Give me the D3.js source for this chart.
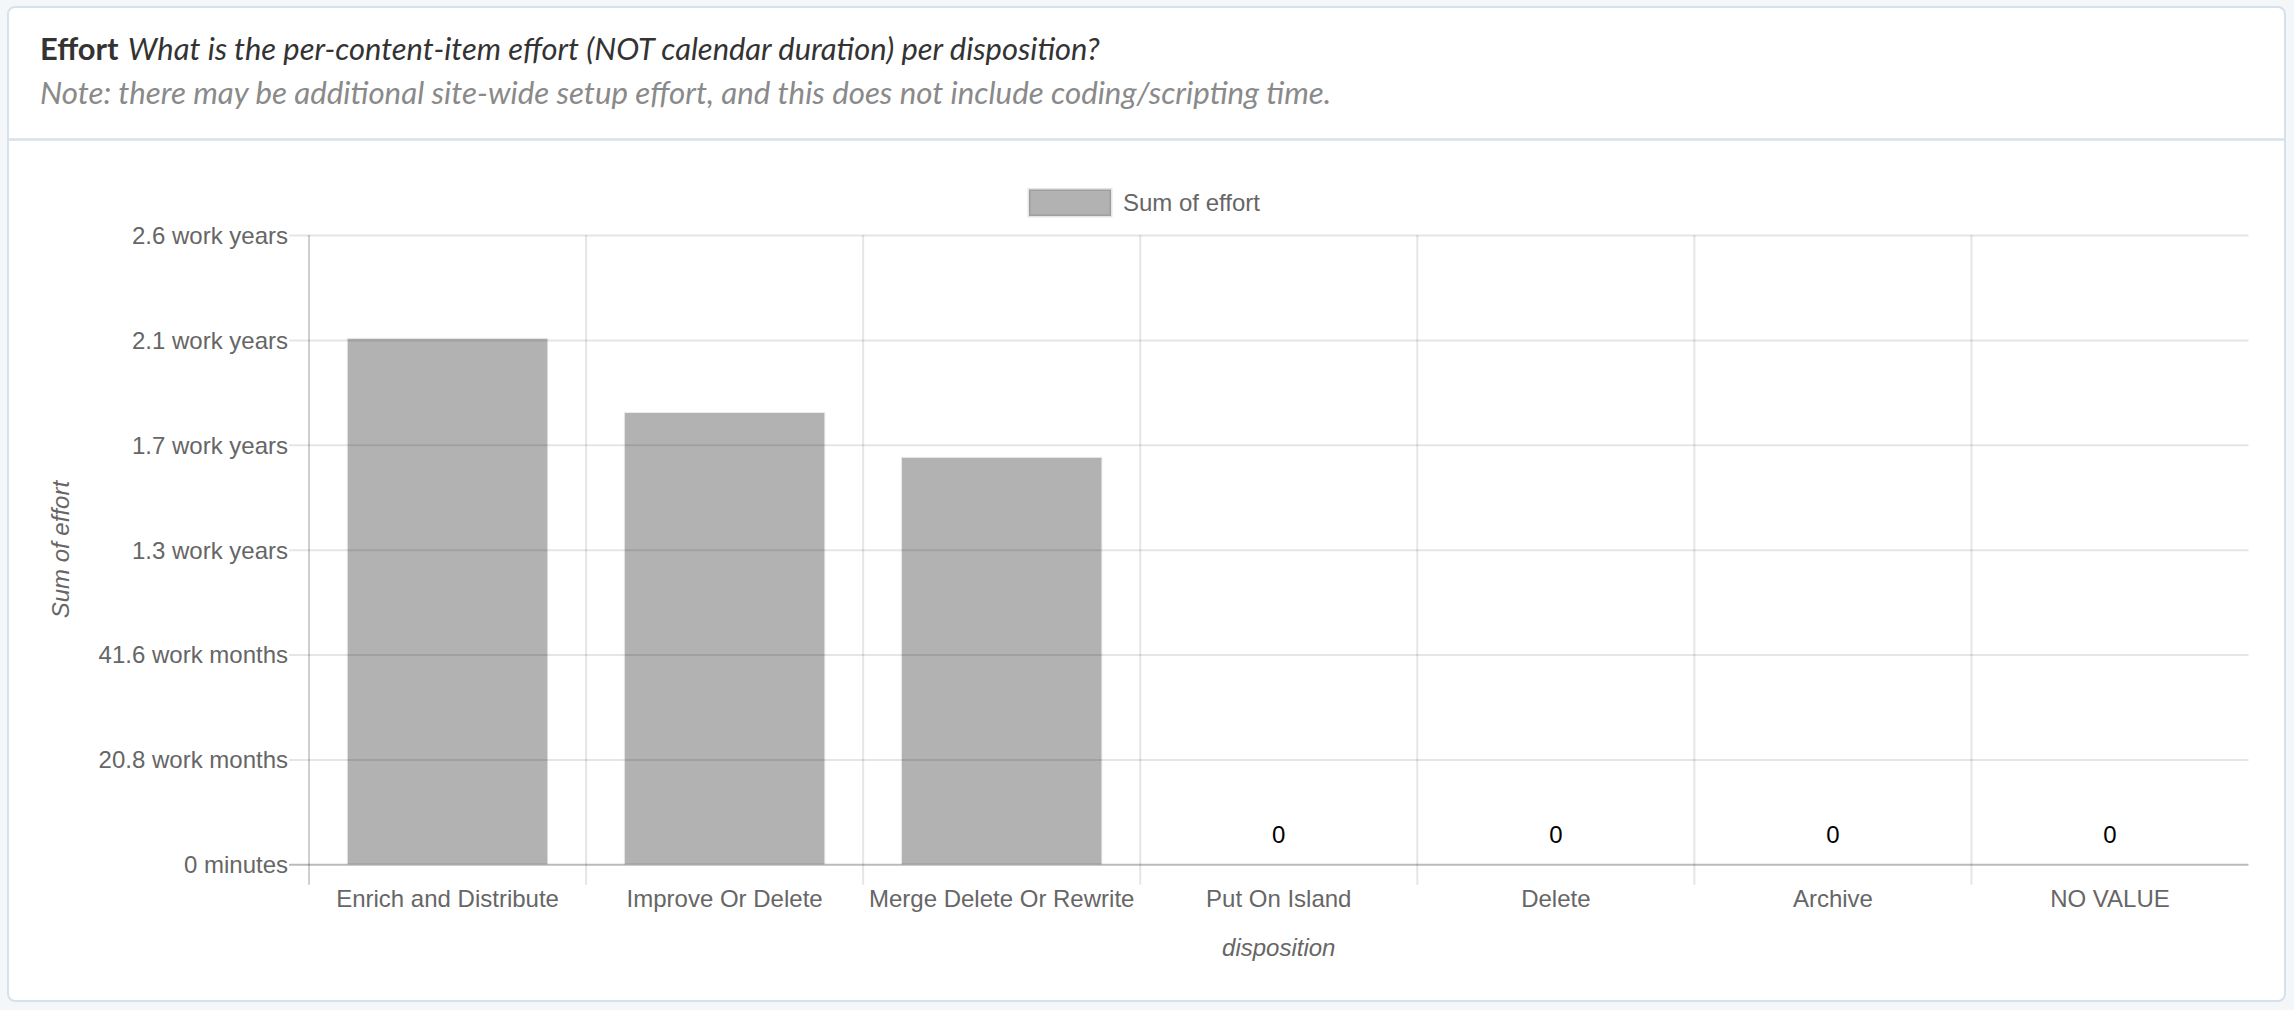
<!DOCTYPE html>
<html>
<head>
<meta charset="utf-8">
<script src="https://cdn.jsdelivr.net/npm/d3@7"></script>
<style>
  html, body { margin: 0; padding: 0; background: #f4f7fa; }
  svg { display: block; }
</style>
</head>
<body>
<svg id="chart" width="2294" height="1010"></svg>
<script>
// ---- data ----
const categories = ["Enrich and Distribute", "Improve Or Delete", "Merge Delete Or Rewrite", "Put On Island", "Delete", "Archive", "NO VALUE"];
const effortWorkMonths = [104.2, 89.5, 80.6, 0, 0, 0, 0];
const yTickValues = [0, 20.8, 41.6, 62.4, 83.2, 104, 124.8];
const yTickLabels = ["0 minutes", "20.8 work months", "41.6 work months", "1.3 work years", "1.7 work years", "2.1 work years", "2.6 work years"];
const seriesName = "Sum of effort";
const titleBold = "Effort";
const titleQuestion = "What is the per-content-item effort (NOT calendar duration) per disposition?";
const titleNote = "Note: there may be additional site-wide setup effort, and this does not include coding/scripting time.";
const xAxisTitle = "disposition";
const yAxisTitle = "Sum of effort";

// ---- layout ----
const W = 2294, H = 1010;
const plot = { left: 309, right: 2248.5, top: 235, bottom: 864.3 };
const chartFont = "'Liberation Sans', Arial, Helvetica, sans-serif";
const headFont = "Lato, 'Open Sans', sans-serif";
const svg = d3.select("#chart");

// card
svg.append("rect").attr("x", 8).attr("y", 7).attr("width", 2277).attr("height", 994)
  .attr("rx", 7).attr("fill", "#fff").attr("stroke", "#d6e1eb").attr("stroke-width", 2);
svg.append("line").attr("x1", 9).attr("x2", 2284).attr("y1", 139.5).attr("y2", 139.5)
  .attr("stroke", "#d6e1eb").attr("stroke-width", 2.5);

// header text, fitted to the reference widths
function fitText(sel, targetWidth) {
  const base = 24;
  sel.attr("font-size", base);
  const w = sel.node().getComputedTextLength();
  sel.attr("font-size", base * targetWidth / w);
}
const t1 = svg.append("text").attr("x", 40).attr("y", 60).attr("font-family", headFont).attr("fill", "#333");
t1.append("tspan").attr("font-weight", "bold").text(titleBold);
t1.append("tspan").attr("font-style", "italic").attr("dx", "0.3em").text(titleQuestion);
fitText(t1, 1051);
const t2 = svg.append("text").attr("x", 40).attr("y", 104).attr("font-family", headFont)
  .attr("font-style", "italic").attr("fill", "#8a8a8a").text(titleNote);
fitText(t2, 1292);

// scales
const x = d3.scaleBand().domain(categories).range([plot.left, plot.right]).paddingInner(0).paddingOuter(0);
const y = d3.scaleLinear().domain([0, 124.8]).range([plot.bottom, plot.top]);
const barW = x.bandwidth() * 0.72;

// horizontal gridlines via axis
const yAxis = d3.axisLeft(y).tickValues(yTickValues).tickFormat((d, i) => yTickLabels[i])
  .tickSize(-(plot.right - plot.left)).tickPadding(22);
const gy = svg.append("g").attr("transform", `translate(${plot.left},0)`).call(yAxis);
gy.select(".domain").remove();
gy.selectAll(".tick line").attr("x1", -20).attr("stroke-width", 2)
  .attr("stroke", d => d === 0 ? "rgba(0,0,0,0.27)" : "rgba(0,0,0,0.1)");
gy.selectAll(".tick text").attr("font-family", chartFont).attr("font-size", 24).attr("fill", "#666")
  .attr("x", -21).attr("dy", "0.35em");

// vertical gridlines at band edges
const edges = categories.map(c => x(c));
svg.append("g").selectAll("line").data(edges).join("line")
  .attr("x1", d => d).attr("x2", d => d).attr("y1", plot.top).attr("y2", plot.bottom + 20.5)
  .attr("stroke", (d, i) => i === 0 ? "rgba(0,0,0,0.19)" : "rgba(0,0,0,0.1)").attr("stroke-width", 2);

// bars
const bars = svg.append("g");
bars.selectAll("rect.bar").data(categories).join("rect").attr("class", "bar")
  .attr("x", c => x(c) + (x.bandwidth() - barW) / 2)
  .attr("width", barW)
  .attr("y", (c, i) => y(effortWorkMonths[i]))
  .attr("height", (c, i) => y(0) - y(effortWorkMonths[i]))
  .attr("fill", "rgba(0,0,0,0.3)");
// thin light outline (top/left/right)
bars.selectAll("path.edge").data(categories.filter((c, i) => effortWorkMonths[i] > 0)).join("path").attr("class", "edge")
  .attr("d", c => {
    const i = categories.indexOf(c);
    const x0 = x(c) + (x.bandwidth() - barW) / 2 - 0.5, x1 = x0 + barW + 1, yt = y(effortWorkMonths[i]) - 0.5, yb = y(0);
    return `M${x0},${yb}V${yt}H${x1}V${yb}`;
  })
  .attr("fill", "none").attr("stroke", "rgba(0,0,0,0.08)").attr("stroke-width", 1);

// zero-value labels
svg.append("g").selectAll("text").data(categories.filter((c, i) => effortWorkMonths[i] === 0)).join("text")
  .attr("x", c => x(c) + x.bandwidth() / 2).attr("y", 843)
  .attr("text-anchor", "middle").attr("font-family", chartFont).attr("font-size", 24).attr("fill", "#000")
  .text("0");

// x axis labels
const xAxis = d3.axisBottom(x).tickSize(0).tickPadding(0);
const gx = svg.append("g").attr("transform", `translate(0,${plot.bottom})`).call(xAxis);
gx.select(".domain").remove();
gx.selectAll(".tick text").attr("font-family", chartFont).attr("font-size", 24).attr("fill", "#666")
  .attr("y", 42.5).attr("dy", 0);

// axis titles
svg.append("text").attr("x", (plot.left + plot.right) / 2).attr("y", 956)
  .attr("text-anchor", "middle").attr("font-family", chartFont).attr("font-style", "italic")
  .attr("font-size", 24).attr("fill", "#666").text(xAxisTitle);
svg.append("text").attr("transform", `translate(69,${(plot.top + plot.bottom) / 2}) rotate(-90)`)
  .attr("text-anchor", "middle").attr("font-family", chartFont).attr("font-style", "italic")
  .attr("font-size", 24).attr("fill", "#666").text(yAxisTitle);

// legend
const lg = svg.append("g");
lg.append("rect").attr("x", 1029).attr("y", 189.5).attr("width", 82).attr("height", 26.5)
  .attr("fill", "rgba(0,0,0,0.3)").attr("stroke", "rgba(0,0,0,0.1)").attr("stroke-width", 3);
lg.append("text").attr("x", 1123).attr("y", 210.5).attr("font-family", chartFont).attr("font-size", 24)
  .attr("fill", "#666").text(seriesName);
</script>
</body>
</html>
